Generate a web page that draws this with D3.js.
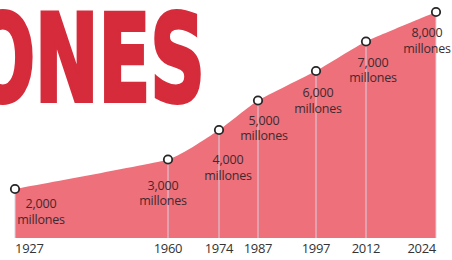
<!DOCTYPE html>
<html>
<head>
<meta charset="utf-8">
<script src="https://cdn.jsdelivr.net/npm/d3@7"></script>
<style>
html,body{margin:0;padding:0;background:#fff;}
svg{display:block;}
</style>
</head>
<body>
<svg id="chart" width="452" height="260"></svg>
<script>
// ---- data ----
const years = [1927, 1960, 1974, 1987, 1997, 2012, 2024];
const population = [2000, 3000, 4000, 5000, 6000, 7000, 8000]; // millions
const valueLabels = ["2,000", "3,000", "4,000", "5,000", "6,000", "7,000", "8,000"];
const unitLabel = "millones";
const yearLabels = ["1927", "1960", "1974", "1987", "1997", "2012", "2024"];
const titleText = "MILLONES";

// ---- layout ----
const W = 452, H = 260;
const xRange = [15, 168, 219, 258, 316, 366, 436];
const baseY = 238;
const labelDx = [26, -5, 9, 6, 2, 7, -9];
const labelDy = [19, 30, 34, 24, 26, 25, 25];

const svg = d3.select("#chart");
const data = years.map((y, i) => ({year: y, pop: population[i], label: valueLabels[i], ylab: yearLabels[i], i}));

const x = d3.scaleLinear().domain(years).range(xRange);
const y = d3.scaleLinear().domain([2000, 8000]).range([189, 12]);

// title (partially cut off at left, as in the original)
const title = svg.append("text")
  .attr("x", 0).attr("y", 101)
  .attr("font-family", "'Liberation Sans Narrow','DejaVu Sans Condensed','DejaVu Sans',sans-serif")
  .attr("font-weight", "bold")
  .attr("font-size", 121)
  .attr("fill", "#d52b3a")
  .attr("stroke", "#d52b3a")
  .attr("stroke-width", 4)
  .attr("stroke-linejoin", "miter")
  .text(titleText);
const tn = title.node();
const s0 = tn.getStartPositionOfChar(5).x;
const e0 = tn.getEndPositionOfChar(7).x;
const sc = (205 - 35) / (e0 - s0);
title.attr("transform", `translate(${35 - sc * s0},0) scale(${sc},1)`);

// area
const area = d3.area()
  .x(d => x(d.year))
  .y0(baseY)
  .y1(d => y(d.pop))
  .curve(d3.curveCardinal.tension(0.6));
svg.append("path").datum(data)
  .attr("d", area)
  .attr("fill", "#ed707b");

// vertical guide lines
svg.append("g").selectAll("line").data(data).join("line")
  .attr("x1", d => x(d.year)).attr("x2", d => x(d.year))
  .attr("y1", d => y(d.pop) + 4).attr("y2", baseY)
  .attr("stroke", "#d9d3e3").attr("stroke-width", 1);

// value labels (two lines in one text)
const lab = svg.append("g")
  .attr("font-family", "'Open Sans',sans-serif")
  .attr("font-size", 12.5)
  .attr("fill", "#3e2a2f")
  .attr("text-anchor", "middle")
  .attr("letter-spacing", -0.2);
const lt = lab.selectAll("text").data(data).join("text")
  .attr("x", d => x(d.year) + labelDx[d.i])
  .attr("y", d => y(d.pop) + labelDy[d.i]);
lt.append("tspan").text(d => d.label);
lt.append("tspan")
  .attr("x", d => x(d.year) + labelDx[d.i])
  .attr("dy", 15.5)
  .text(unitLabel);

// points
svg.append("g").selectAll("circle").data(data).join("circle")
  .attr("cx", d => x(d.year)).attr("cy", d => y(d.pop))
  .attr("r", 4.2)
  .attr("fill", "#fff")
  .attr("stroke", "#262626")
  .attr("stroke-width", 1.8);

// year axis labels
svg.append("g")
  .attr("font-family", "'Open Sans',sans-serif")
  .attr("font-size", 13)
  .attr("fill", "#333")
  .selectAll("text").data(data).join("text")
  .attr("x", d => x(d.year))
  .attr("y", 253)
  .attr("letter-spacing", -0.3)
  .attr("text-anchor", (d, i) => i === 0 ? "start" : (i === data.length - 1 ? "end" : "middle"))
  .text(d => d.ylab);
</script>
</body>
</html>
